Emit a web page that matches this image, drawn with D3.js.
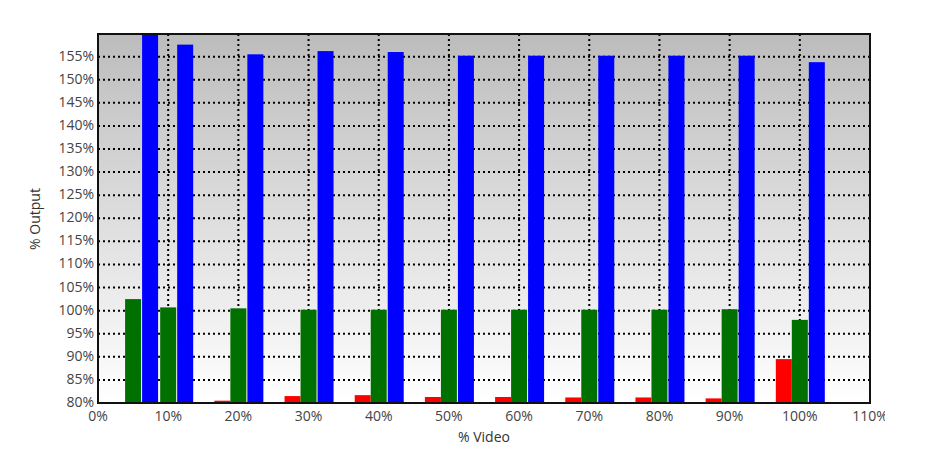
<!DOCTYPE html>
<html><head><meta charset="utf-8">
<script src="https://cdn.jsdelivr.net/npm/d3@7"></script>
<style>body{margin:0;background:#fff}text{font-family:"Open Sans",sans-serif}</style>
</head><body><svg id="chart" width="933" height="462"></svg>
<script>
// group positions (% video) and series values (% output)
const videoPct = [5, 10, 20, 30, 40, 50, 60, 70, 80, 90, 100];
const redVals   = [70, 70, 80.5, 81.5, 81.7, 81.3, 81.3, 81.2, 81.2, 81.0, 89.5];
const greenVals = [102.5, 100.7, 100.5, 100.2, 100.2, 100.2, 100.2, 100.2, 100.2, 100.3, 98.0];
const blueVals  = [162, 157.6, 155.5, 156.2, 156.0, 155.2, 155.2, 155.2, 155.2, 155.2, 153.8];
const xTicks = d3.range(0, 111, 10);
const yTicks = d3.range(80, 156, 5);

const m = {left: 98, right: 870, top: 34, bottom: 403};
const svg = d3.select("#chart");
const x = d3.scaleLinear().domain([0, 110]).range([m.left, m.right]);
const y = d3.scaleLinear().domain([80, 159.9]).range([m.bottom, m.top]);

const grad = svg.append("defs").append("linearGradient").attr("id", "bg")
    .attr("x1", 0).attr("y1", 0).attr("x2", 0).attr("y2", 1);
grad.append("stop").attr("offset", "0%").attr("stop-color", "#bcbcbc");
grad.append("stop").attr("offset", "100%").attr("stop-color", "#ffffff");
svg.append("defs").append("clipPath").attr("id", "clip").append("rect")
    .attr("x", m.left).attr("y", m.top).attr("width", m.right - m.left).attr("height", m.bottom - m.top);

svg.append("rect").attr("x", m.left).attr("y", m.top)
    .attr("width", m.right - m.left).attr("height", m.bottom - m.top).attr("fill", "url(#bg)");

// grid
const grid = svg.append("g").attr("stroke", "#000").attr("stroke-width", 2).attr("stroke-dasharray", "2,3");
grid.selectAll(".h").data(yTicks.slice(1)).join("line")
    .attr("x1", m.left).attr("x2", m.right).attr("y1", d => y(d)).attr("y2", d => y(d));
grid.selectAll(".v").data(xTicks.slice(1, -1)).join("line")
    .attr("y1", m.top).attr("y2", m.bottom).attr("x1", d => x(d)).attr("x2", d => x(d));

// bars
const bars = svg.append("g").attr("clip-path", "url(#clip)");
const series = [
  {vals: redVals, color: "#ff0000", off: -24},
  {vals: greenVals, color: "#007000", off: -8},
  {vals: blueVals, color: "#0000ff", off: 9}
];
series.forEach(s => {
  bars.selectAll(null).data(videoPct.map((v, i) => [v, s.vals[i]])).join("rect")
    .attr("x", d => x(d[0]) + s.off).attr("width", 16)
    .attr("y", d => y(Math.max(d[1], 80))).attr("height", d => m.bottom - y(Math.max(d[1], 80)))
    .attr("fill", s.color);
});

// frame
svg.append("rect").attr("x", m.left).attr("y", m.top)
    .attr("width", m.right - m.left).attr("height", m.bottom - m.top)
    .attr("fill", "none").attr("stroke", "#111").attr("stroke-width", 2);

// labels
svg.append("g").selectAll("text").data(yTicks).join("text")
    .attr("x", 94).attr("y", d => y(d) + 4).attr("text-anchor", "end")
    .attr("font-size", 14).attr("fill", "#444").text(d => d + "%");
svg.append("g").selectAll("text").data(xTicks).join("text")
    .attr("x", d => x(d)).attr("y", 421).attr("text-anchor", "middle")
    .attr("font-size", 14).attr("fill", "#444").text(d => d + "%");
svg.append("rect").attr("x", 885).attr("y", 400).attr("width", 48).attr("height", 25).attr("fill", "#fff");
svg.append("text").attr("x", 484).attr("y", 442).attr("text-anchor", "middle")
    .attr("font-size", 14).attr("fill", "#333").text("% Video");
svg.append("text").attr("transform", "translate(40,219) rotate(-90)").attr("text-anchor", "middle")
    .attr("font-size", 14).attr("fill", "#333").text("% Output");
</script></body></html>
